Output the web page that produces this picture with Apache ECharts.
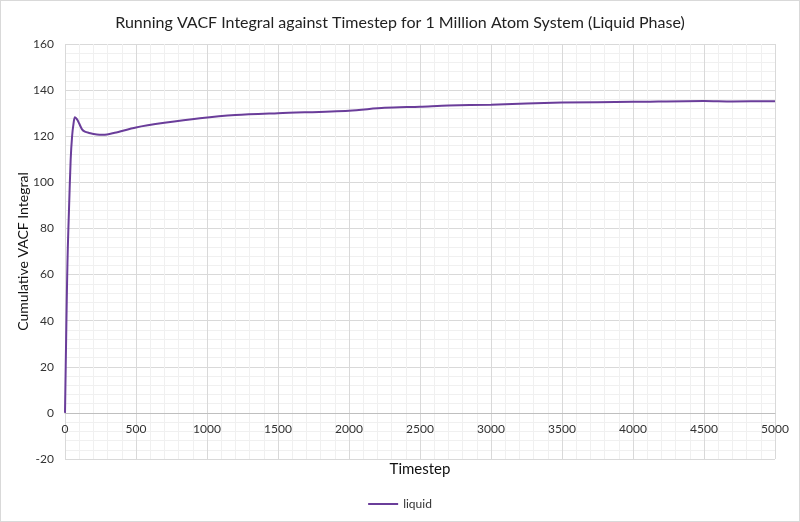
<!DOCTYPE html>
<html>
<head>
    <meta charset="utf-8">
    <script src="https://cdn.jsdelivr.net/npm/echarts@6/dist/echarts.min.js"></script>
    <style>
        body { margin: 0; }
        #myChart { width: 800px; height: 522px; box-sizing: border-box; border: 1px solid #d9d9d9; }
    </style>
</head>
<body>
<div id="myChart"></div>

<script type="text/javascript">
    // 数据：时间步 与 累计 VACF 积分
    var timesteps = [0, 5, 10, 15, 20, 28, 40, 50, 60, 70, 85, 100, 120, 140, 170, 200, 270, 350,
        500, 700, 950, 1200, 1500, 2000, 2250, 2500, 2700, 3000, 3500, 4000, 4500, 4700, 5000];
    var liquid = [0, 20, 40, 58, 72, 88, 110, 120, 125.5, 128.2, 127.3, 125.5, 123, 122, 121.4, 121, 120.6, 121.5,
        123.8, 125.8, 127.8, 129.2, 130, 131.1, 132.3, 132.8, 133.3, 133.7, 134.6, 134.9, 135.3, 135.1, 135.2];

    var seriesData = timesteps.map(function (t, i) {
        return [t, liquid[i]];
    });

    var chart = echarts.init(document.getElementById('myChart'));
    var font = 'Lato, "Open Sans", sans-serif';

    var gridTop = 43, gridBottom = 62;
    var plotH = 520 - gridTop - gridBottom;
    // x轴放在 y=0 处（y 轴范围 -20 ~ 160）
    var xOffset = -plotH * 20 / 180;

    var option = {
        backgroundColor: '#fff',
        title: {
            text: 'Running VACF Integral against Timestep for 1 Million Atom System (Liquid Phase)',
            left: 'center',
            top: 9,
            textStyle: {
                fontFamily: font,
                fontSize: 16,
                fontWeight: 'normal',
                color: '#222',
            },
        },
        legend: {
            bottom: 6,
            left: 'center',
            icon: 'rect',
            itemWidth: 30,
            itemHeight: 2,
            textStyle: {
                fontFamily: font,
                fontSize: 12,
                color: '#333',
            },
            data: ['liquid'],
        },
        grid: {
            left: 64,
            right: 24,
            top: gridTop,
            bottom: gridBottom,
            outerBoundsMode: 'none',
        },
        xAxis: {
            type: 'value',
            min: 0,
            max: 5000,
            interval: 500,
            offset: xOffset,
            name: 'Timestep',
            nameLocation: 'middle',
            nameGap: 49,
            nameMoveOverlap: false,
            nameTextStyle: {
                fontFamily: font,
                fontSize: 15,
                color: '#111',
            },
            axisLine: {
                onZero: false,
                lineStyle: {color: '#bfbfbf'},
            },
            axisTick: {show: false},
            axisLabel: {
                fontFamily: font,
                fontSize: 12,
                color: '#333',
                margin: 10,
                showMaxLabel: true,
                formatter: function (v) { return String(v); },
            },
            splitLine: {
                lineStyle: {color: '#d9d9d9'},
            },
            minorTick: {show: false, splitNumber: 5},
            minorSplitLine: {
                show: true,
                lineStyle: {color: '#f0f0f0'},
            },
        },
        yAxis: {
            type: 'value',
            min: -20,
            max: 160,
            interval: 20,
            name: 'Cumulative VACF Integral',
            nameLocation: 'middle',
            nameGap: 35,
            nameMoveOverlap: false,
            nameTextStyle: {
                fontFamily: font,
                fontSize: 14,
                color: '#111',
            },
            axisLine: {show: false},
            axisTick: {show: false},
            axisLabel: {
                fontFamily: font,
                fontSize: 12,
                color: '#333',
                margin: 11,
            },
            splitLine: {
                lineStyle: {color: '#d9d9d9'},
            },
            minorTick: {show: false, splitNumber: 5},
            minorSplitLine: {
                show: true,
                lineStyle: {color: '#f0f0f0'},
            },
        },
        series: [{
            name: 'liquid',
            type: 'line',
            data: seriesData,
            showSymbol: false,
            smooth: 0.3,
            color: '#6a3d9a',
            lineStyle: {
                width: 2,
                color: '#6a3d9a',
            },
            animation: false,
        }],
    };

    chart.setOption(option, true);
</script>
</body>
</html>
